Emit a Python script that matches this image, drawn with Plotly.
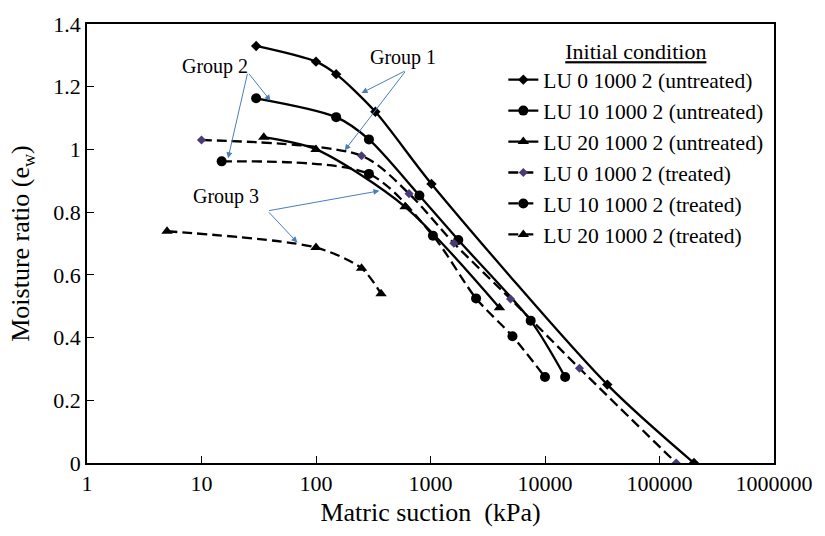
import plotly.graph_objects as go

# ---- data (matric suction kPa, moisture ratio e_w) ----
u0_x = [30, 100, 150, 330, 1020, 35000, 200000]
u0_y = [1.33, 1.28, 1.24, 1.12, 0.89, 0.25, 0.0]

u10_x = [30, 150, 290, 800, 1750, 7500, 15000]
u10_y = [1.163, 1.103, 1.032, 0.853, 0.711, 0.454, 0.274]

u20_x = [35, 100, 600, 4000]
u20_y = [1.039, 1.0, 0.817, 0.495]

t0_x = [10, 250, 650, 1600, 5000, 20000, 140000]
t0_y = [1.03, 0.98, 0.859, 0.701, 0.523, 0.302, 0.0]

t10_x = [15, 290, 1050, 2500, 5200, 10000]
t10_y = [0.962, 0.922, 0.725, 0.525, 0.404, 0.274]

t20_x = [5, 100, 250, 370]
t20_y = [0.739, 0.687, 0.621, 0.54]

names = ["LU 0 1000 2 (untreated)", "LU 10 1000 2 (untreated)", "LU 20 1000 2 (untreated)",
         "LU 0 1000 2 (treated)", "LU 10 1000 2 (treated)", "LU 20 1000 2 (treated)"]

xtick_vals = [1, 10, 100, 1000, 10000, 100000, 1000000]
xtick_text = ["1", "10", "100", "1000", "10000", "100000", "1000000"]

FONT = "Liberation Serif"

series = [
    (u0_x, u0_y, "solid", "diamond", 8, "black"),
    (u10_x, u10_y, "solid", "circle", 10, "black"),
    (u20_x, u20_y, "solid", "triangle-up", 10, "black"),
    (t0_x, t0_y, "10px,5px", "diamond", 7, "#4b3a7a"),
    (t10_x, t10_y, "10px,5px", "circle", 10, "black"),
    (t20_x, t20_y, "10px,5px", "triangle-up", 10, "black"),
]

fig = go.Figure()
for (xs, ys, dash, sym, size, mcol), nm in zip(series, names):
    fig.add_trace(go.Scatter(
        x=xs, y=ys, name=nm, mode="lines+markers",
        line=dict(color="black", width=2.3, dash=dash, shape="spline", smoothing=0.8),
        marker=dict(symbol=sym, size=size, color=mcol, line=dict(width=0)),
    ))

arrow_col = "#4a7ebb"
# arrows: (head_logx, head_y, tail_logx, tail_y)
arrows = [
    (2.398, 1.18, 2.787, 1.252),
    (2.251, 0.997, 2.787, 1.252),
    (1.603, 1.155, 1.404, 1.246),
    (1.232, 0.972, 1.404, 1.246),
    (2.554, 0.868, 1.577, 0.804),
    (1.837, 0.703, 1.577, 0.804),
]
annotations = []
for hx, hy, tx, ty in arrows:
    annotations.append(dict(
        x=hx, y=hy, ax=tx, ay=ty, xref="x", yref="y", axref="x", ayref="y",
        text="", showarrow=True, arrowhead=2, arrowsize=1.2, arrowwidth=1,
        arrowcolor=arrow_col, standoff=0, startstandoff=0,
    ))
labels = [("Group 1", 2.76, 1.293), ("Group 2", 1.117, 1.265), ("Group 3", 1.21, 0.849)]
for t, lx, ly in labels:
    annotations.append(dict(
        x=lx, y=ly, xref="x", yref="y", text=t, showarrow=False,
        font=dict(family=FONT, size=20, color="black"),
    ))

fig.update_layout(
    width=825, height=536,
    margin=dict(l=87, r=44, t=19, b=73),
    paper_bgcolor="white", plot_bgcolor="white",
    font=dict(family=FONT, size=22, color="black"),
    showlegend=True,
    legend=dict(
        x=0.606, y=0.985, xanchor="left", yanchor="top",
        bgcolor="rgba(0,0,0,0)",
        font=dict(family=FONT, size=21.5, color="black"),
        title=dict(text="Initial condition", side="top center",
                   font=dict(family=FONT, size=22, color="black", lineposition="under")),
        tracegroupgap=0, itemwidth=30,
    ),
    annotations=annotations,
)
fig.update_xaxes(
    type="log", range=[0, 6],
    tickvals=xtick_vals, ticktext=xtick_text,
    ticks="inside", ticklen=7, tickwidth=1, tickcolor="black",
    showline=True, linecolor="black", linewidth=1.5, mirror=True,
    showgrid=False, zeroline=False,
    tickfont=dict(family=FONT, size=22),
    title=dict(text="Matric suction  (kPa)", font=dict(family=FONT, size=26), standoff=8),
)
fig.update_yaxes(
    range=[0, 1.4], dtick=0.2,
    ticks="inside", ticklen=7, tickwidth=1, tickcolor="black",
    showline=True, linecolor="black", linewidth=1.5, mirror=True,
    showgrid=False, zeroline=False,
    tickfont=dict(family=FONT, size=22),
    title=dict(text="Moisture ratio (e<sub>w</sub>)", font=dict(family=FONT, size=26), standoff=16),
)

fig.write_html("out.html")
